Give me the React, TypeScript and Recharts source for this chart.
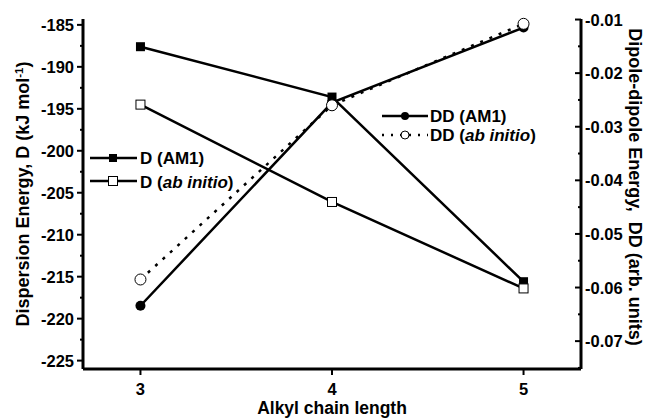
import { LineChart, Line, XAxis, YAxis } from "recharts";

const chainLength = [3, 4, 5];
const dispAM1 = [-187.6, -193.6, -215.6];
const dispAbInitio = [-194.5, -206.1, -216.4];
const ddAM1 = [-0.0634, -0.0255, -0.0115];
const ddAbInitio = [-0.0585, -0.026, -0.0108];

const leftTicks = [-225, -220, -215, -210, -205, -200, -195, -190, -185];
const leftMinor = [-222.5, -217.5, -212.5, -207.5, -202.5, -197.5, -192.5, -187.5];
const rightTicks = [-0.07, -0.06, -0.05, -0.04, -0.03, -0.02, -0.01];
const rightMinor = [-0.075, -0.065, -0.055, -0.045, -0.035, -0.025, -0.015];

const data = chainLength.map((n, i) => ({
  n,
  dAM1: dispAM1[i],
  dAb: dispAbInitio[i],
  ddAM1: ddAM1[i],
  ddAb: ddAbInitio[i],
}));

const FONT = "'Liberation Sans', Arial, sans-serif";
const TICK_SIZE = 6;
const TICK_MARGIN = 2;
const FS = 16.5;

const LeftTick = (props: any) => {
  const { x, y, payload } = props;
  const ax = x + TICK_SIZE + TICK_MARGIN;
  const major = leftTicks.includes(payload.value);
  return (
    <g>
      <line x1={ax} x2={ax - (major ? 6 : 3)} y1={y} y2={y} stroke="#000" strokeWidth={2} />
      {major && (
        <text x={ax - 9} y={y} dy={6} textAnchor="end" fontSize={FS} fontWeight="bold" fontFamily={FONT} fill="#000">
          {payload.value}
        </text>
      )}
    </g>
  );
};

const RightTick = (props: any) => {
  const { x, y, payload } = props;
  const ax = x - TICK_SIZE - TICK_MARGIN;
  const major = rightTicks.some((t) => Math.abs(t - payload.value) < 1e-9);
  return (
    <g>
      <line x1={ax} x2={ax - (major ? 6 : 3)} y1={y} y2={y} stroke="#000" strokeWidth={2} />
      {major && (
        <text x={ax + 4} y={y} dy={6} textAnchor="start" fontSize={FS} fontWeight="bold" fontFamily={FONT} fill="#000">
          {payload.value.toFixed(2)}
        </text>
      )}
    </g>
  );
};

const BottomTick = (props: any) => {
  const { x, y, payload } = props;
  const ay = y - TICK_SIZE - TICK_MARGIN;
  return (
    <g>
      <line x1={x} x2={x} y1={ay} y2={ay + 6} stroke="#000" strokeWidth={2} />
      <text x={x} y={ay + 26} textAnchor="middle" fontSize={FS} fontWeight="bold" fontFamily={FONT} fill="#000">
        {payload.value}
      </text>
    </g>
  );
};

const TopTick = (props: any) => {
  const { x, y } = props;
  const ay = y + TICK_SIZE + TICK_MARGIN;
  return <line x1={x} x2={x} y1={ay} y2={ay + 6} stroke="#000" strokeWidth={2} />;
};

const FilledSquare = (props: any) => (
  <rect key={props.index} x={props.cx - 4.5} y={props.cy - 4.5} width={9} height={9} fill="#000" />
);
const OpenSquare = (props: any) => (
  <rect key={props.index} x={props.cx - 4.5} y={props.cy - 4.5} width={9} height={9} fill="#fff" stroke="#000" strokeWidth={1} />
);
const FilledCircle = (props: any) => (
  <circle key={props.index} cx={props.cx} cy={props.cy} r={5} fill="#000" />
);
const OpenCircle = (props: any) => (
  <circle key={props.index} cx={props.cx} cy={props.cy} r={5.5} fill="#fff" stroke="#000" strokeWidth={1} />
);

const LeftLabel = () => (
  <text x={29} y={194} transform="rotate(-90 29 194)" textAnchor="middle" fontSize={18} fontWeight="bold" fontFamily={FONT} fill="#000">
    <tspan>Dispersion Energy, D (kJ mol</tspan>
    <tspan baselineShift="super" fontSize={11.5}>-1</tspan>
    <tspan>)</tspan>
  </text>
);

const RightLabel = () => (
  <text x={629} y={187} transform="rotate(90 629 187)" textAnchor="middle" fontSize={18} fontWeight="bold" fontFamily={FONT} fill="#000" style={{ whiteSpace: "pre" }}>
    {"Dipole-dipole Energy,  DD (arb. units)"}
  </text>
);

const legendText = { fontSize: 17, fontWeight: "bold" as const, fontFamily: FONT, fill: "#000" };

const Overlay = () => (
  <svg width={655} height={418} style={{ position: "absolute", left: 0, top: 0, pointerEvents: "none" }}>
    <g>
      <line x1={90} x2={137} y1={158} y2={158} stroke="#000" strokeWidth={2.5} />
      <rect x={109} y={154} width={8} height={8} fill="#000" />
      <text x={140} y={164} {...legendText}>D (AM1)</text>
      <line x1={90} x2={137} y1={181} y2={181} stroke="#000" strokeWidth={2.5} />
      <rect x={108.5} y={176.5} width={9} height={9} fill="#fff" stroke="#000" strokeWidth={1} />
      <text x={140} y={188} {...legendText}>
        D (<tspan fontStyle="italic">ab initio</tspan>)
      </text>
    </g>
    <g>
      <line x1={382} x2={428} y1={116} y2={116} stroke="#000" strokeWidth={2.5} />
      <circle cx={405} cy={116} r={4} fill="#000" />
      <text x={430} y={122} {...legendText}>DD (AM1)</text>
      <line x1={382} x2={428} y1={135} y2={135} stroke="#000" strokeWidth={2.5} strokeDasharray="2 7" />
      <circle cx={405} cy={135} r={4} fill="#fff" stroke="#000" strokeWidth={1} />
      <text x={430} y={141} {...legendText}>
        DD (<tspan fontStyle="italic">ab initio</tspan>)
      </text>
    </g>
  </svg>
);

export default function App() {
  return (
    <div style={{ position: "fixed", left: 0, top: 0, width: 655, height: 418, background: "#fff" }}>
      <LineChart width={655} height={418} data={data} margin={{ top: 19, right: 0, left: 0, bottom: 0 }}>
        <XAxis
          dataKey="n"
          type="number"
          domain={[2.7, 5.3]}
          ticks={chainLength}
          height={49}
          tickSize={TICK_SIZE}
          tickMargin={TICK_MARGIN}
          tickLine={false}
          tick={<BottomTick />}
          axisLine={{ stroke: "#000", strokeWidth: 3 }}
          label={{ value: "Alkyl chain length", position: "insideBottom", offset: 4, fontSize: 17.5, fontWeight: "bold", fontFamily: FONT, fill: "#000" }}
        />
        <XAxis
          xAxisId="top"
          orientation="top"
          dataKey="n"
          type="number"
          domain={[2.7, 5.3]}
          ticks={chainLength}
          height={0}
          tickSize={TICK_SIZE}
          tickMargin={TICK_MARGIN}
          tickLine={false}
          tick={<TopTick />}
          axisLine={{ stroke: "#000", strokeWidth: 3 }}
        />
        <YAxis
          yAxisId="left"
          type="number"
          domain={[-226, -184.3]}
          ticks={[...leftTicks, ...leftMinor].sort((a, b) => a - b)}
          interval={0}
          width={83}
          tickSize={TICK_SIZE}
          tickMargin={TICK_MARGIN}
          tickLine={false}
          tick={<LeftTick />}
          axisLine={{ stroke: "#000", strokeWidth: 3 }}
          label={<LeftLabel />}
        />
        <YAxis
          yAxisId="right"
          orientation="right"
          type="number"
          domain={[-0.0752, -0.0099]}
          ticks={[...rightTicks, ...rightMinor].sort((a, b) => a - b)}
          interval={0}
          width={74}
          tickSize={TICK_SIZE}
          tickMargin={TICK_MARGIN}
          tickLine={false}
          tick={<RightTick />}
          axisLine={{ stroke: "#000", strokeWidth: 3 }}
          label={<RightLabel />}
        />
        <Line yAxisId="left" dataKey="dAM1" stroke="#000" strokeWidth={2.5} dot={<FilledSquare />} activeDot={false} isAnimationActive={false} type="linear" />
        <Line yAxisId="left" dataKey="dAb" stroke="#000" strokeWidth={2.5} dot={<OpenSquare />} activeDot={false} isAnimationActive={false} type="linear" />
        <Line yAxisId="right" dataKey="ddAM1" stroke="#000" strokeWidth={2.5} dot={<FilledCircle />} activeDot={false} isAnimationActive={false} type="linear" />
        <Line yAxisId="right" dataKey="ddAb" stroke="#000" strokeWidth={2.5} strokeDasharray="3 7" dot={<OpenCircle />} activeDot={false} isAnimationActive={false} type="linear" />
      </LineChart>
      <Overlay />
    </div>
  );
}
